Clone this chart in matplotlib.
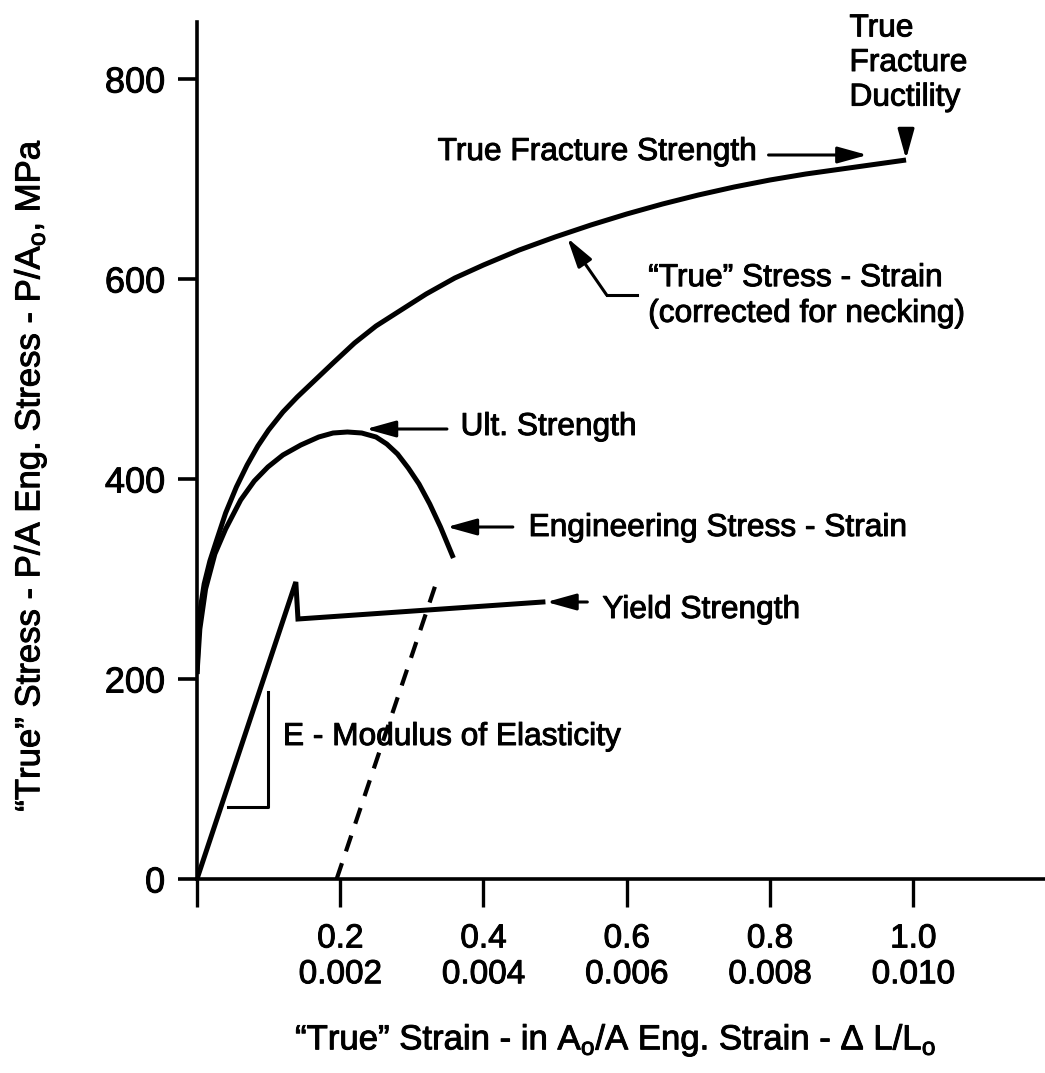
import matplotlib
matplotlib.use("Agg")
import matplotlib.pyplot as plt
import matplotlib.patheffects as pe

plt.rcParams["font.family"] = ["Liberation Sans", "DejaVu Sans"]
plt.rcParams["mathtext.fontset"] = "custom"
plt.rcParams["mathtext.rm"] = "Liberation Sans"
plt.rcParams["mathtext.it"] = "Liberation Sans"

# "True" stress - strain (corrected for necking)
true_strain = [0, 0.002, 0.005, 0.01, 0.018, 0.028, 0.04, 0.055, 0.07, 0.085,
               0.1, 0.12, 0.14, 0.165, 0.19, 0.22, 0.25, 0.285, 0.32, 0.36,
               0.4, 0.45, 0.5, 0.55, 0.6, 0.65, 0.7, 0.75, 0.8, 0.85,
               0.9, 0.95, 0.99]
true_stress = [205, 245, 272, 295, 318, 340, 366, 392, 414, 433,
               449, 467, 482, 499, 516, 536, 553, 569, 585, 601,
               614, 629, 642, 654, 665, 675, 684, 692, 699, 705,
               710, 715, 719]

# engineering stress - strain
eng_strain = [0, 0.004, 0.012, 0.025, 0.04, 0.061, 0.08, 0.099, 0.12, 0.145,
              0.17, 0.19, 0.21, 0.23, 0.25, 0.265, 0.28, 0.295, 0.31, 0.325,
              0.34, 0.358]
eng_stress = [205, 250, 290, 325, 350, 379, 398, 412, 424, 434,
              442, 446, 447, 446, 442, 435, 425, 411, 395, 375,
              352, 321]

# elastic line, yield drop and plateau
yield_strain = [0, 0.138, 0.141, 0.483]
yield_stress = [0, 297, 260, 277]

# 0.2% offset line
offset_strain = [0.195, 0.333]
offset_stress = [0, 294]

# modulus bracket
bracket_strain = [0.043, 0.099, 0.099]
bracket_stress = [72, 72, 187]

x_ticks = [0, 0.2, 0.4, 0.6, 0.8, 1.0]
x_labels = ["", "0.2\n0.002", "0.4\n0.004", "0.6\n0.006", "0.8\n0.008", "1.0\n0.010"]
y_ticks = [0, 200, 400, 600, 800]

heavy = [pe.withStroke(linewidth=0.7, foreground="black")]

fig = plt.figure(figsize=(10.45, 10.73), dpi=100)
ax = fig.add_axes([0.1885, 0.1808, 0.8115, 0.7987])

ax.plot(true_strain, true_stress, color="black", lw=3.6, solid_capstyle="butt")
ax.plot(eng_strain, eng_stress, color="black", lw=3.6, solid_capstyle="butt")
ax.plot(yield_strain, yield_stress, color="black", lw=3.6, solid_joinstyle="miter")
ax.plot(offset_strain, offset_stress, color="black", lw=3.0, ls=(0, (4, 3)))
ax.plot(bracket_strain, bracket_stress, color="black", lw=2.2)

arrow = dict(arrowstyle="-|>,head_length=0.9,head_width=0.25", color="black",
             lw=2.2, mutation_scale=20, shrinkA=0, shrinkB=0)
fs = 22.8

# annotations
ax.text(0.336, 727, "True Fracture Strength", fontsize=fs, va="center", ha="left",
        path_effects=heavy)
ax.annotate("", xy=(0.936, 724), xytext=(0.798, 724), arrowprops=arrow)

ax.text(0.911, 816, "True\nFracture\nDuctility", fontsize=fs, va="center", ha="left",
        linespacing=1.2, path_effects=heavy)
ax.annotate("", xy=(0.99, 720), xytext=(0.99, 748), arrowprops=arrow)

ax.text(0.63, 583, "\u201cTrue\u201d Stress - Strain\n(corrected for necking)", fontsize=fs,
        va="center", ha="left", linespacing=1.25, path_effects=heavy)
ax.plot([0.615, 0.572], [584, 584], color="black", lw=2.2)
ax.annotate("", xy=(0.517, 641), xytext=(0.572, 584), arrowprops=arrow)

ax.text(0.368, 452, "Ult. Strength", fontsize=fs, va="center", ha="left",
        path_effects=heavy)
ax.annotate("", xy=(0.236, 450), xytext=(0.349, 450), arrowprops=arrow)

ax.text(0.463, 351, "Engineering Stress - Strain", fontsize=fs, va="center", ha="left",
        path_effects=heavy)
ax.annotate("", xy=(0.349, 352), xytext=(0.441, 352), arrowprops=arrow)

ax.text(0.566, 269, "Yield Strength", fontsize=fs, va="center", ha="left",
        path_effects=heavy)
ax.annotate("", xy=(0.488, 277), xytext=(0.545, 277), arrowprops=arrow)

ax.text(0.12, 142, "E - Modulus of Elasticity", fontsize=fs, va="center", ha="left",
        path_effects=heavy)

# axes
ax.set_xlim(0, 1.184)
ax.set_ylim(0, 857)
for s in ["top", "right"]:
    ax.spines[s].set_visible(False)
for s in ["left", "bottom"]:
    ax.spines[s].set_linewidth(2.6)

ax.set_xticks(x_ticks)
ax.set_xticklabels(x_labels, fontsize=24, linespacing=1.2)
ax.set_yticks(y_ticks)
ax.set_yticklabels([str(v) for v in y_ticks], fontsize=26)
for lab in ax.get_xticklabels() + ax.get_yticklabels():
    lab.set_path_effects(heavy)
ax.tick_params(axis="x", direction="out", length=20, width=2.4, pad=12)
ax.tick_params(axis="y", direction="out", length=14, width=2.6, pad=9)

fig.text(30 / 1045, 1 - 475 / 1073,
         "\u201cTrue\u201d Stress - P/A Eng. Stress - P/A$_\\mathrm{o}$, MPa",
         rotation=90, fontsize=25, ha="center", va="center", path_effects=heavy)
fig.text(616 / 1045, 1 - 1040 / 1073,
         "\u201cTrue\u201d Strain - in A$_\\mathrm{o}$/A Eng. Strain - \u0394 L/L$_\\mathrm{o}$",
         fontsize=25, ha="center", va="center", path_effects=heavy)

fig.savefig("out.png", dpi=100)
